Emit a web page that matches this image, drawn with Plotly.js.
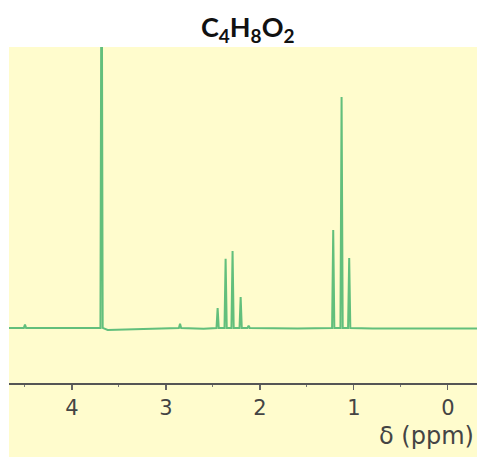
<!DOCTYPE html>
<html>
<head>
<meta charset="utf-8">
<script src="https://cdn.plot.ly/plotly-3.0.1.min.js"></script>
<style>html,body{margin:0;padding:0;background:#fff;}#chart{width:477px;height:457px;}</style>
</head>
<body>
<div id="chart"></div>
<script>
// Chemical shift (ppm) and relative intensity of each resolved line
const peakPpm    = [4.50, 3.685, 2.85, 2.450, 2.365, 2.291, 2.205, 2.12, 1.220, 1.131, 1.050];
const peakHeight = [1.2,  160,   1.5,  7.1,   24.6,  27.4,  11.0,  0.8,  34.9,  82.2,  24.9];
// Baseline level
const baselinePpm = [4.67, 3.75, 3.62, 3.30, 2.60, 1.60, 0.80, -0.31];
const baselineVal = [0.0,  0.0,  -0.7, -0.4, -0.3, -0.2, -0.2, -0.2];
const tickVals  = [4, 3, 2, 1, 0];
const tickText  = ['4', '3', '2', '1', '0'];
const minorVals = [4.5, 3.5, 2.5, 1.5, 0.5];

const halfWidth = 0.012;
let pts = [];
for (let i = 0; i < baselinePpm.length; i++) pts.push([baselinePpm[i], baselineVal[i]]);
for (let i = 0; i < peakPpm.length; i++) {
  pts.push([peakPpm[i] + halfWidth, 0]);
  pts.push([peakPpm[i], peakHeight[i]]);
  pts.push([peakPpm[i] - halfWidth, 0]);
}
pts.sort((a, b) => b[0] - a[0]);
const xs = pts.map(p => p[0]);
const ys = pts.map(p => p[1]);

const bg = '#FFFCCD';
const xr = [4.67, -0.31];

const trace = {
  x: xs, y: ys, type: 'scatter', mode: 'lines',
  line: {color: '#62bf7c', width: 2},
  hoverinfo: 'skip', showlegend: false, cliponaxis: true
};

const sub = d => '<sub><span style="font-size:19px">' + d + '</span></sub>';

const layout = {
  width: 477, height: 457,
  margin: {l: 9, r: 0, t: 47, b: 74},
  paper_bgcolor: '#ffffff',
  plot_bgcolor: bg,
  showlegend: false,
  title: {
    text: '<b>C' + sub('4') + 'H' + sub('8') + 'O' + sub('2') + '</b>',
    font: {family: 'Lato, "Open Sans", sans-serif', size: 27, color: '#111'},
    x: 0.51, xanchor: 'center', xref: 'paper',
    y: 1 - 28 / 457, yref: 'container', yanchor: 'middle'
  },
  xaxis: {
    range: xr, showgrid: false, zeroline: false,
    showline: true, linecolor: '#555', linewidth: 1.5,
    ticks: 'outside', ticklen: 5, tickwidth: 1.2, tickcolor: '#666',
    tickvals: tickVals, ticktext: tickText,
    tickfont: {family: '"DejaVu Sans", sans-serif', size: 21, color: '#444'},
    ticklabelstandoff: 0,
    minor: {tickvals: minorVals, ticks: 'outside', ticklen: 2, tickwidth: 1, tickcolor: '#777'},
    fixedrange: true
  },
  xaxis2: {
    range: xr, overlaying: 'x', anchor: 'y', side: 'bottom',
    showgrid: false, zeroline: false, showline: false,
    ticks: 'inside', ticklen: 5, tickwidth: 1.2, tickcolor: '#666',
    tickvals: tickVals, showticklabels: false,
    minor: {tickvals: minorVals, ticks: 'inside', ticklen: 2, tickwidth: 1, tickcolor: '#777'},
    fixedrange: true
  },
  yaxis: {range: [-19.6, 100], visible: false, showgrid: false, zeroline: false, fixedrange: true},
  shapes: [{
    type: 'rect', xref: 'paper', yref: 'paper', x0: 0, x1: 1, y0: -74 / 336, y1: 0,
    fillcolor: bg, line: {width: 0}, layer: 'below'
  }],
  annotations: [{
    text: 'δ (ppm)', xref: 'paper', yref: 'paper', x: 0.997, y: -(436 - 383) / 336,
    xanchor: 'right', yanchor: 'middle', showarrow: false,
    font: {family: '"DejaVu Sans", sans-serif', size: 24, color: '#444'}
  }]
};

Plotly.newPlot('chart', [trace], layout, {staticPlot: true, displayModeBar: false});
</script>
</body>
</html>
